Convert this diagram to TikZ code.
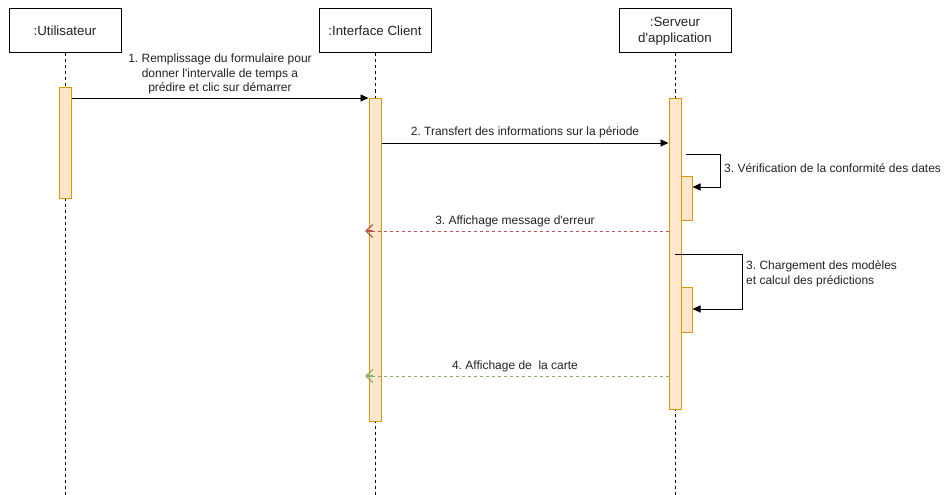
\documentclass[tikz,border=0pt]{standalone}
\usepackage{fontspec}
\setmainfont{Liberation Sans}
\usetikzlibrary{arrows.meta}
\definecolor{actfill}{HTML}{FFE6CC}
\definecolor{actdraw}{HTML}{D79B00}
\definecolor{errred}{HTML}{B85450}
\definecolor{okgreen}{HTML}{82B366}
\definecolor{inkgray}{HTML}{222222}
\frenchspacing

\begin{document}
\begin{tikzpicture}[x=1pt,y=-1pt,
  actor/.style={draw, line width=1pt, minimum width=112pt, minimum height=44pt,
    inner sep=0pt, font=\fontsize{13.3}{15.5}\selectfont, align=center, text=inkgray},
  actbar/.style={draw=actdraw, fill=actfill, line width=1pt, minimum width=12pt,
    inner sep=0pt, anchor=north},
  life/.style={dash pattern=on 3pt off 3pt, line width=0.9pt},
  msg/.style={-{Triangle[length=8pt,width=7pt]}, line width=0.9pt},
  retline/.style={dash pattern=on 3pt off 3pt, line width=0.9pt},
  rettip/.style={solid, line width=1.2pt, -{Straight Barb[length=7pt,width=13pt]}},
  lbl/.style={font=\fontsize{12}{14.5}\selectfont, align=center, text=inkgray, inner sep=0pt}]

\useasboundingbox (0,0) rectangle (948,495);

% participants
\node[actor] (user) at (65,31) {:Utilisateur};
\node[actor] (client) at (375,31) {:Interface Client};
\node[actor] (server) at (675,31) {:Serveur\\d\textquotesingle application};

% lifelines
\draw[life] (user.south) -- (user.south |- 0,495);
\draw[life] (client.south) -- (client.south |- 0,495);
\draw[life] (server.south) -- (server.south |- 0,495);

% activation bars
\node[actbar, minimum height=111pt] (actU) at (65,87) {};
\node[actbar, minimum height=323pt] (actC) at (375,98) {};
\node[actbar, minimum height=311pt] (actS) at (675,98) {};
\node[actbar, minimum width=11pt, minimum height=44pt] (chk) at (686.5,176) {};
\node[actbar, minimum width=11pt, minimum height=45pt] (calc) at (686.5,287) {};

% endpoints of the self calls and returns
\coordinate (chkFrom) at (686,154);
\coordinate (calcFrom) at (675,254);
\coordinate (errTo) at (365,231);
\coordinate (mapTo) at (365,376);

% 1. form submission
\draw[msg] (actU.east |- 0,98) -- (actC.west |- 0,98);
\node[lbl] (m1) at (220,74) {1. Remplissage du formulaire pour\\donner l\textquotesingle intervalle de temps a\\prédire et clic sur démarrer};

% 2. transfer to server
\draw[msg] (actC.east |- 0,143) -- (actS.west |- 0,143);
\node[lbl] (m2) at (525,132) {2. Transfert des informations sur la période};

% 3. date check (self call)
\draw[msg] (chkFrom) -- (720,154) -- (720,187) -- (chk.east |- 0,187);
\node[lbl, anchor=west] (m3) at (724,168) {3. Vérification de la conformité des dates};

% 3. error message (dashed return, solid open tip)
\draw[retline, draw=errred] (actS.west |- 0,231) -- (errTo);
\draw[rettip, draw=errred] ([xshift=8pt]errTo) -- (errTo);
\node[lbl] (m3e) at (515,221) {3. Affichage message d\textquotesingle erreur};

% 3. model loading (self call)
\draw[msg] (calcFrom) -- (742,254) -- (742,309) -- (calc.east |- 0,309);
\node[lbl, anchor=west, align=left] (m3c) at (746,274) {3. Chargement des modèles\\et calcul des prédictions};

% 4. map display (dashed return, solid open tip)
\draw[retline, draw=okgreen] (actS.west |- 0,376) -- (mapTo);
\draw[rettip, draw=okgreen] ([xshift=8pt]mapTo) -- (mapTo);
\node[lbl] (m4) at (515,366) {4. Affichage de \ la carte};

\end{tikzpicture}
\end{document}
